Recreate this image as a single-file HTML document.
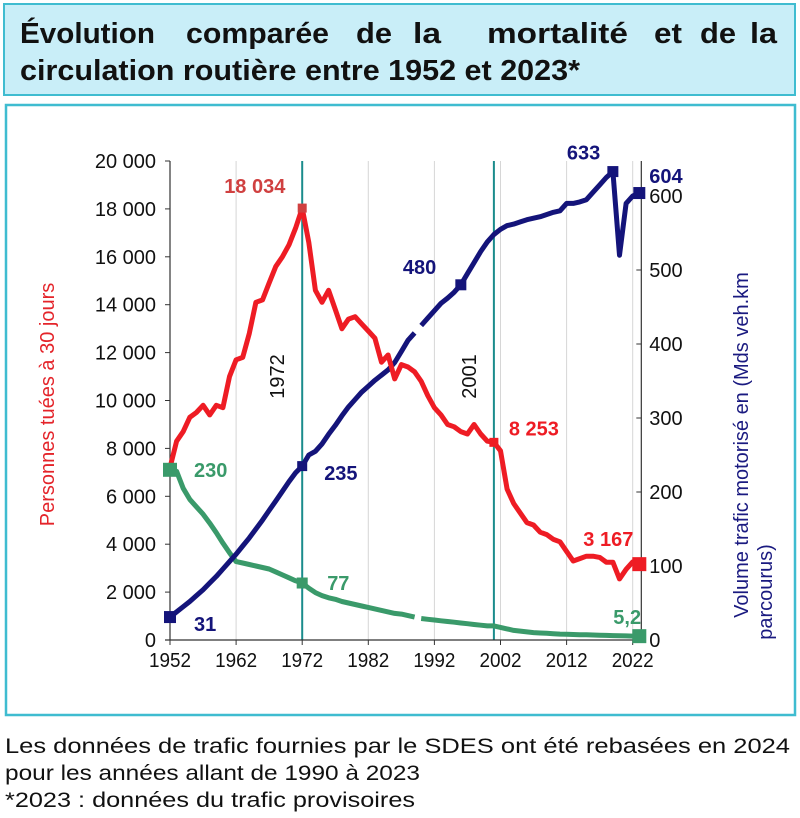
<!DOCTYPE html>
<html><head><meta charset="utf-8"><style>
html,body{margin:0;padding:0;background:#fff;}
svg{display:block;font-family:"Liberation Sans",sans-serif;}
</style></head><body>
<svg id="chart" width="800" height="818" viewBox="0 0 800 818">
<rect x="4" y="4" width="791" height="91" fill="#c9eef8" stroke="#3fbcd0" stroke-width="2"/>
<g font-size="29" font-weight="bold" fill="#111">
<text x="20" y="43" textLength="135" lengthAdjust="spacingAndGlyphs">Évolution</text>
<text x="186" y="43" textLength="143" lengthAdjust="spacingAndGlyphs">comparée</text>
<text x="356" y="43" textLength="36" lengthAdjust="spacingAndGlyphs">de</text>
<text x="413" y="43" textLength="28" lengthAdjust="spacingAndGlyphs">la</text>
<text x="487" y="43" textLength="141" lengthAdjust="spacingAndGlyphs">mortalité</text>
<text x="654" y="43" textLength="28" lengthAdjust="spacingAndGlyphs">et</text>
<text x="700" y="43" textLength="36" lengthAdjust="spacingAndGlyphs">de</text>
<text x="750" y="43" textLength="27" lengthAdjust="spacingAndGlyphs">la</text>
</g>
<text x="20" y="80" font-size="29" font-weight="bold" fill="#111" textLength="560" lengthAdjust="spacingAndGlyphs">circulation routière entre 1952 et 2023*</text>
<rect x="6" y="105" width="789" height="610" fill="#fff" stroke="#3fbcd0" stroke-width="2.5"/>
<g id="plot"></g>
<text x="5" y="753" font-size="21" fill="#111" font-family="'Liberation Sans Narrow','Liberation Sans',sans-serif" textLength="785" lengthAdjust="spacingAndGlyphs">Les données de trafic fournies par le SDES ont été rebasées en 2024</text>
<text x="5" y="780" font-size="21" fill="#111" font-family="'Liberation Sans Narrow','Liberation Sans',sans-serif" textLength="415" lengthAdjust="spacingAndGlyphs">pour les années allant de 1990 à 2023</text>
<text x="5" y="807" font-size="21" fill="#111" font-family="'Liberation Sans Narrow','Liberation Sans',sans-serif" textLength="410" lengthAdjust="spacingAndGlyphs">*2023 : données du trafic provisoires</text>
</svg>
<script>
const years = [];
for (let y = 1952; y <= 2023; y++) years.push(y);
const killed = [7200,8300,8700,9300,9500,9800,9400,9800,9700,11000,11700,11800,12800,14100,14200,14900,15600,16000,16500,17200,18034,16600,14600,14100,14600,13800,13000,13400,13500,13200,12900,12600,11600,11900,10900,11500,11400,11200,10800,10200,9700,9400,9000,8900,8700,8600,9000,8600,8300,8253,7900,6300,5700,5300,4900,4800,4500,4400,4200,4100,3700,3300,3400,3500,3500,3450,3250,3250,2550,2950,3260,3167];
const traffic = [31,38,45,52,60,68,77,86,96,106,
 116,127,138,150,162,175,188,201,214,226,
 235,250,255,265,278,290,303,315,325,335,
 343,351,358,365,375,390,405,415,425,435,
 445,455,462,470,480,495,510,525,538,548,
 555,560,562,565,568,570,572,575,578,580,
 590,590,592,595,605,615,625,633,520,590,
 600,604];
const ratio = [230,228,205,190,180,170,158,145,131,118,106,104,102,100,98,96,92,88,84,80,77,70,64,60,57,55,52,50,48,46,44,42,40,38,36,35,33,31,29,28,27,26,25,24,23,22,21,20,19,19,17,15,13,12,11,10,9.5,9,8.5,8,7.8,7.5,7.2,7,6.8,6.5,6.2,6,5.8,5.5,5.3,5.2];
const leftTicks = [0,2000,4000,6000,8000,10000,12000,14000,16000,18000,20000];
const leftTickLabels = ["0","2 000","4 000","6 000","8 000","10 000","12 000","14 000","16 000","18 000","20 000"];
const rightTicks = [0,100,200,300,400,500,600];
const xTicks = [1952,1962,1972,1982,1992,2002,2012,2022];

const NS="http://www.w3.org/2000/svg";
const g=document.getElementById('plot');
const x0=170, pxYear=6.61, yBase=640;
const X=y=>x0+(y-1952)*pxYear;
const YL=v=>yBase-v*(479/20000);
const YR=v=>yBase-v*0.74;
function el(tag,attrs,parent){const e=document.createElementNS(NS,tag);for(const k in attrs)e.setAttribute(k,attrs[k]);(parent||g).appendChild(e);return e;}
function txt(s,attrs){const e=el('text',attrs);e.textContent=s;return e;}

xTicks.forEach(t=>{if(t===1952)return;
 const l=el('line',{x1:X(t),x2:X(t),y1:YL(20000),y2:yBase,stroke:'#d6d6d6','stroke-width':1});
 
 
});
[1972,2001].forEach(t=>{
 const l=el('line',{x1:X(t),x2:X(t),y1:YL(20000),y2:yBase,stroke:'#1a8c8c','stroke-width':2});
 
 
 const tx=txt(String(t),{x:0,y:0,'font-size':20,fill:'#111','text-anchor':'middle',transform:`translate(${X(t)-18},${YL(11000)}) rotate(-90)`});
 
 
});
const la=el('line',{x1:x0,x2:x0,y1:YL(20000),y2:yBase,stroke:'#333','stroke-width':1.2});


const xr=X(2023)+2;
const ra=el('line',{x1:xr,x2:xr,y1:YL(20000),y2:yBase,stroke:'#333','stroke-width':1.2});


const xa=el('line',{x1:x0-5,x2:xr,y1:yBase,y2:yBase,stroke:'#333','stroke-width':1.2});


leftTicks.forEach((t,i)=>{
 el('line',{x1:x0-5,x2:x0,y1:YL(t),y2:YL(t),stroke:'#333'});
 const tx=txt(leftTickLabels[i],{x:x0-14,y:YL(t)+7,'font-size':20,fill:'#111','text-anchor':'end'});
 
 
});
rightTicks.forEach(t=>{
 el('line',{x1:xr-5,x2:xr,y1:YR(t),y2:YR(t),stroke:'#333'});
 const tx=txt(String(t),{x:xr+8,y:YR(t)+7,'font-size':20,fill:'#111'});
 
 
});
xTicks.forEach(t=>{
 el('line',{x1:X(t),x2:X(t),y1:yBase,y2:yBase+5,stroke:'#333'});
 const tx=txt(String(t),{x:X(t),y:yBase+27,'font-size':20,fill:'#111','text-anchor':'middle',textLength:42,lengthAdjust:'spacingAndGlyphs'});
 
 
});
const lt=txt('Personnes tuées à 30 jours',{x:0,y:0,'font-size':20,fill:'#e4242a','text-anchor':'middle',transform:`translate(54,${YL(10000)+4}) rotate(-90)`});


const rt1=txt('Volume trafic motorisé en (Mds veh.km',{x:0,y:0,'font-size':20,fill:'#1a1a80','text-anchor':'middle',transform:`translate(748,445) rotate(-90)`});


const rt2=txt('parcourus)',{x:0,y:0,'font-size':20,fill:'#1a1a80','text-anchor':'middle',transform:`translate(772,592) rotate(-90)`});



function path(vals,Y,split){
 let d='';
 vals.forEach((v,i)=>{
  const px=X(years[i]).toFixed(1), py=Y(v).toFixed(1);
  const cmd=(i===0||(split&&years[i]===1990))?'M':'L';
  d+=`${cmd}${px},${py}`;});
 return d;
}
const gp=el('path',{d:path(ratio,YR,true),fill:'none',stroke:'#3a9a6a','stroke-width':5,'stroke-linejoin':'round'});


const bp=el('path',{d:path(traffic,YR,true),fill:'none',stroke:'#14147a','stroke-width':5,'stroke-linejoin':'round'});


const rp=el('path',{d:path(killed,YL,false),fill:'none',stroke:'#ee1c24','stroke-width':5,'stroke-linejoin':'round'});



function marker(year,v,Y,color,label,dx,dy,size,name){
 const px=X(year),py=Y(v);
 const r=el('rect',{x:px-size/2,y:py-size/2,width:size,height:size,fill:color});
 
 
 const t=txt(label,{x:px+dx,y:py+dy,'font-size':20,'font-weight':'bold',fill:color});
 
 
}
const iy=y=>years.indexOf(y);
marker(1972,killed[iy(1972)],YL,'#d04040','18 034',-78,-15,9,'killed-1972');
marker(2001,killed[iy(2001)],YL,'#ee1c24','8 253',15,-7,9,'killed-2001');
marker(2023,killed[iy(2023)],YL,'#ee1c24','3 167',-56,-18,14,'killed-2023');
marker(1952,traffic[iy(1952)],YR,'#14147a','31',24,14,12,'traffic-1952');
marker(1972,traffic[iy(1972)],YR,'#14147a','235',22,14,10,'traffic-1972');
marker(1996,traffic[iy(1996)],YR,'#14147a','480',-58,-11,11,'traffic-1996');
marker(2019,traffic[iy(2019)],YR,'#14147a','633',-46,-12,11,'traffic-2019');
marker(2023,traffic[iy(2023)],YR,'#14147a','604',10,-10,12,'traffic-2023');
marker(1952,ratio[iy(1952)],YR,'#3a9a6a','230',24,7,14,'ratio-1952');
marker(1972,ratio[iy(1972)],YR,'#3a9a6a','77',25,7,11,'ratio-1972');
marker(2023,ratio[iy(2023)],YR,'#3a9a6a','5,2',-26,-12,14,'ratio-2023');
</script>
</body></html>
